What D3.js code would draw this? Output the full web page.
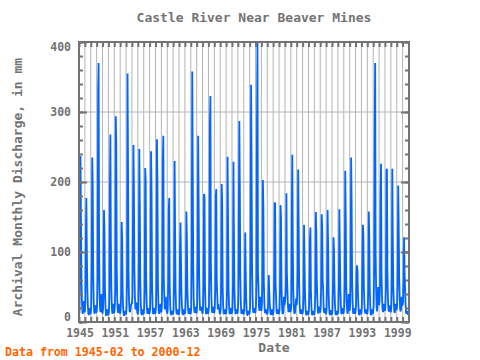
<!DOCTYPE html>
<html>
<head>
<meta charset="utf-8">
<script src="https://cdn.jsdelivr.net/npm/d3@7"></script>
<style>
  body { margin: 0; background: #fff; }
  text { font-family: "DejaVu Sans Mono", monospace; font-weight: bold; }
</style>
</head>
<body>
<script>
// monthly discharge (mm), series starts 1945-02
var firstMonth = [1945, 2];
var flow1940s = [
  12, 86, 237, 146, 62, 30, 14, 12, 20, 30, 16,
  14, 30, 122, 177, 101, 50, 24, 12, 10, 14, 20, 12,
  12, 24, 88, 235, 194, 70, 30, 14, 12, 18, 24, 14,
  14, 24, 60, 331, 370, 110, 40, 18, 14, 18, 40, 18,
  12, 18, 40, 160, 129, 48, 22, 10, 9, 14, 18, 11
];
var flow1950s = [
  10, 14, 34, 188, 268, 120, 48, 20, 12, 14, 26, 14,
  13, 22, 45, 294, 257, 78, 32, 16, 13, 26, 22, 14,
  12, 18, 40, 143, 121, 46, 20, 11, 9, 12, 16, 11,
  12, 20, 60, 355, 226, 72, 32, 16, 14, 18, 24, 26,
  26, 36, 139, 253, 190, 76, 36, 18, 26, 28, 20, 13,
  11, 18, 80, 247, 168, 60, 26, 13, 10, 13, 18, 11,
  12, 20, 50, 220, 203, 64, 28, 14, 12, 16, 20, 12,
  12, 18, 55, 244, 186, 55, 24, 12, 12, 18, 20, 12,
  13, 20, 60, 261, 200, 56, 24, 12, 13, 16, 26, 15,
  14, 22, 70, 230, 266, 59, 36, 18, 24, 36, 26, 15
];
var flow1960s = [
  12, 18, 60, 159, 177, 52, 24, 12, 10, 13, 16, 11,
  12, 18, 70, 230, 130, 46, 20, 11, 12, 14, 18, 11,
  11, 18, 107, 142, 92, 40, 22, 12, 10, 14, 18, 12,
  12, 18, 40, 158, 121, 50, 26, 13, 12, 16, 20, 12,
  12, 20, 109, 358, 218, 76, 32, 16, 13, 18, 22, 13,
  13, 22, 108, 266, 178, 70, 32, 16, 18, 20, 22, 14,
  12, 18, 60, 183, 179, 52, 24, 12, 12, 16, 20, 12,
  14, 22, 70, 283, 323, 86, 36, 16, 13, 18, 22, 14,
  13, 20, 50, 180, 190, 58, 38, 18, 26, 20, 18, 12,
  12, 18, 60, 197, 170, 52, 24, 12, 12, 14, 18, 12
];
var flow1970s = [
  12, 18, 50, 236, 142, 50, 24, 12, 12, 16, 20, 12,
  13, 18, 55, 229, 126, 48, 22, 12, 12, 16, 18, 12,
  16, 34, 155, 287, 193, 64, 28, 13, 12, 16, 18, 12,
  11, 16, 40, 128, 75, 34, 16, 10, 10, 13, 16, 11,
  13, 22, 129, 339, 223, 76, 34, 16, 13, 17, 20, 13,
  14, 24, 60, 289, 405, 72, 52, 22, 16, 26, 36, 18,
  16, 24, 60, 203, 165, 58, 28, 14, 13, 16, 18, 12,
  11, 15, 28, 67, 45, 26, 16, 10, 16, 18, 13, 10,
  11, 18, 60, 170, 170, 55, 32, 14, 12, 16, 18, 12,
  12, 18, 50, 167, 149, 52, 24, 12, 12, 18, 36, 24
];
var flow1980s = [
  28, 34, 53, 184, 70, 48, 26, 14, 18, 26, 20, 14,
  16, 24, 147, 239, 115, 46, 24, 13, 12, 16, 26, 34,
  24, 34, 78, 218, 144, 58, 26, 13, 12, 14, 18, 12,
  12, 18, 40, 139, 86, 40, 20, 11, 10, 13, 16, 11,
  11, 18, 45, 120, 135, 46, 22, 11, 10, 13, 16, 11,
  11, 18, 40, 157, 128, 61, 36, 16, 12, 18, 22, 14,
  14, 22, 55, 154, 134, 60, 46, 18, 13, 16, 20, 12,
  12, 18, 60, 160, 113, 46, 22, 12, 10, 13, 17, 11,
  11, 18, 50, 121, 104, 52, 26, 12, 10, 13, 16, 11,
  12, 18, 55, 161, 104, 50, 24, 12, 12, 16, 20, 12
];
var flow1990s = [
  14, 22, 60, 216, 150, 56, 28, 14, 12, 18, 40, 22,
  16, 24, 65, 235, 172, 62, 28, 13, 12, 16, 20, 12,
  14, 24, 69, 81, 72, 38, 20, 11, 10, 13, 18, 12,
  12, 24, 88, 139, 123, 50, 26, 15, 12, 14, 18, 12,
  12, 18, 50, 158, 123, 48, 22, 11, 10, 13, 18, 12,
  14, 24, 80, 279, 370, 100, 46, 20, 15, 26, 50, 30,
  24, 30, 56, 186, 226, 70, 36, 18, 14, 18, 26, 17,
  16, 24, 50, 216, 219, 76, 36, 18, 15, 20, 24, 15,
  14, 22, 60, 219, 116, 50, 30, 15, 13, 18, 26, 17,
  18, 26, 70, 195, 140, 64, 36, 18, 15, 20, 36, 24
];
var flow2000s = [
  24, 30, 64, 121, 72, 48, 26, 13, 12, 14, 16, 10
];

var xTickYears = [1945, 1951, 1957, 1963, 1969, 1975, 1981, 1987, 1993, 1999];
var yTicks = [0, 100, 200, 300, 400];

var W = 480, H = 360;
var grey = "#737373";

var values = [].concat(flow1940s, flow1950s, flow1960s, flow1970s, flow1980s, flow1990s, flow2000s);
var series = values.map(function (v, i) {
  var m = firstMonth[1] - 1 + i;
  return { t: firstMonth[0] + m / 12, v: v };
});

var x = d3.scaleLinear().domain([1945, 2001]).range([79, 408.5]);
var y = d3.scaleLinear().domain([0, 400]).range([322, 42]);

var svg = d3.select("body").append("svg")
  .attr("width", W)
  .attr("height", H);

svg.append("rect").attr("width", W).attr("height", H).attr("fill", "#fff");

// grid
svg.append("g")
  .selectAll("line")
  .data(d3.range(1946, 2001))
  .enter().append("line")
    .attr("x1", function (d) { return x(d); })
    .attr("x2", function (d) { return x(d); })
    .attr("y1", y(400))
    .attr("y2", y(0))
    .attr("stroke", "#b4b4b4")
    .attr("stroke-width", 1);

svg.append("g")
  .selectAll("line")
  .data([100, 200, 300])
  .enter().append("line")
    .attr("x1", 79)
    .attr("x2", 409)
    .attr("y1", function (d) { return y(d); })
    .attr("y2", function (d) { return y(d); })
    .attr("stroke", "#b4b4b4")
    .attr("stroke-width", 1);

// data line
svg.append("clipPath").attr("id", "plot")
  .append("rect").attr("x", 79).attr("y", 42).attr("width", 330).attr("height", 280);

var line = d3.line()
  .x(function (d) { return x(d.t); })
  .y(function (d) { return y(d.v); });

svg.append("path")
  .datum(series)
  .attr("clip-path", "url(#plot)")
  .attr("fill", "none")
  .attr("stroke", "#0066ff")
  .attr("stroke-width", 1.8)
  .attr("stroke-linejoin", "bevel")
  .attr("d", line);

// ticks: years on top and bottom, inward
var yearTicks = d3.range(1945, 2002);
svg.append("g").call(d3.axisBottom(x).tickValues(yearTicks).tickSize(5).tickFormat(""))
  .attr("transform", "translate(0,42)");
svg.append("g").call(d3.axisTop(x).tickValues(yearTicks).tickSize(5).tickFormat(""))
  .attr("transform", "translate(0,322)");

// left/right ticks every 20, longer at 100s
var minorY = d3.range(0, 401, 20);
svg.append("g").call(d3.axisRight(y).tickValues(minorY).tickFormat("")
    .tickSize(4)).attr("transform", "translate(79,0)");
svg.append("g").call(d3.axisLeft(y).tickValues(minorY).tickFormat("")
    .tickSize(4)).attr("transform", "translate(409,0)");
svg.append("g").call(d3.axisRight(y).tickValues(yTicks).tickFormat("")
    .tickSize(8)).attr("transform", "translate(79,0)");
svg.append("g").call(d3.axisLeft(y).tickValues(yTicks).tickFormat("")
    .tickSize(8)).attr("transform", "translate(409,0)");

svg.selectAll(".domain").remove();
svg.selectAll(".tick line").attr("stroke", grey).attr("stroke-width", 2);

// frame
svg.append("rect")
  .attr("x", 79).attr("y", 42)
  .attr("width", 330).attr("height", 280)
  .attr("fill", "none")
  .attr("stroke", grey)
  .attr("stroke-width", 2);

// tick labels
svg.append("g")
  .selectAll("text")
  .data(xTickYears)
  .enter().append("text")
    .attr("x", function (d) { return x(d) + 1; })
    .attr("y", 337)
    .attr("text-anchor", "middle")
    .attr("font-size", "11.5px")
    .attr("fill", grey)
    .text(function (d) { return d; });

svg.append("g")
  .selectAll("text")
  .data(yTicks)
  .enter().append("text")
    .attr("x", 71)
    .attr("y", function (d) {
      var off = d === 0 ? -5 : (d === 400 ? 5 : 0);
      return y(d) + off + 4;
    })
    .attr("text-anchor", "end")
    .attr("font-size", "11.5px")
    .attr("fill", grey)
    .text(function (d) { return d; });

// titles
svg.append("text")
  .attr("x", 254).attr("y", 22)
  .attr("text-anchor", "middle")
  .attr("font-size", "13px")
  .attr("fill", grey)
  .text("Castle River Near Beaver Mines");

svg.append("text")
  .attr("transform", "translate(22,187) rotate(-90)")
  .attr("text-anchor", "middle")
  .attr("font-size", "13px")
  .attr("fill", grey)
  .text("Archival Monthly Discharge, in mm");

svg.append("text")
  .attr("x", 274).attr("y", 352)
  .attr("text-anchor", "middle")
  .attr("font-size", "13px")
  .attr("fill", grey)
  .text("Date");

svg.append("text")
  .attr("x", 5).attr("y", 356)
  .attr("font-size", "11.6px")
  .attr("fill", "#ff6600")
  .text("Data from 1945-02 to 2000-12");
</script>
</body>
</html>
